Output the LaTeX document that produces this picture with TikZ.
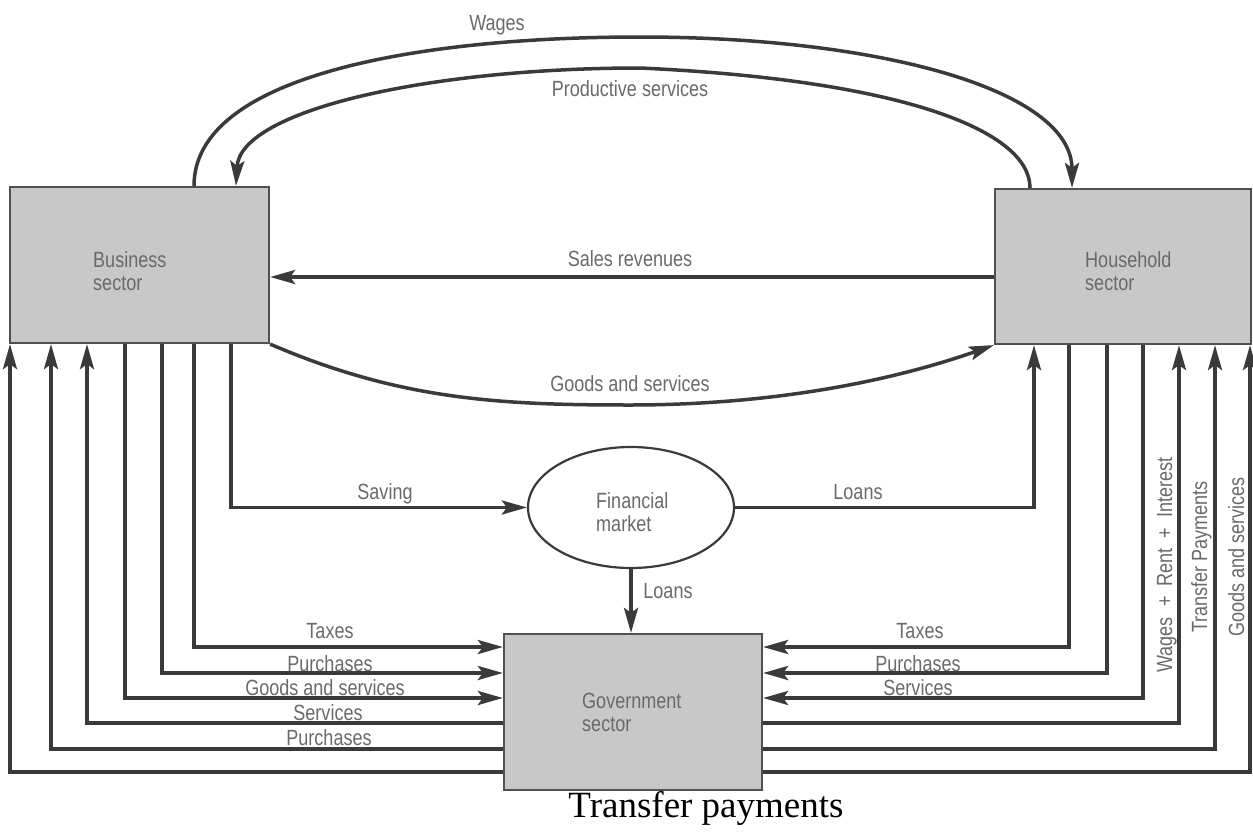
\documentclass[tikz,border=0pt]{standalone}
\usepackage{fontspec}
\setmainfont{Liberation Serif}
\newfontfamily\labfont{Liberation Sans}[FakeStretch=0.82]
\usetikzlibrary{arrows.meta,shapes.geometric}
\definecolor{linecol}{HTML}{3A3A3A}
\definecolor{boxfill}{HTML}{C8C8C8}
\definecolor{boxline}{HTML}{505050}
\definecolor{txtcol}{HTML}{6A6A6A}
\begin{document}
\begin{tikzpicture}[x=1pt,y=-1pt,
  conn/.style={line width=3.5pt, draw=linecol},
  arr/.style={-{Stealth[length=25pt,width=14pt,inset=5pt]}},
  sector/.style={draw=boxline, line width=2.2pt, fill=boxfill, inner sep=0pt, rectangle},
  lab/.style={font=\labfont\fontsize{22}{23}\selectfont, text=txtcol, inner sep=0pt, anchor=base},
  boxlab/.style={lab, align=left, anchor=west},
]
\fill[white] (0,0) rectangle (1253,835);
\useasboundingbox (0,0) rectangle (1253,835);

% sectors
\node[sector, minimum width=259pt, minimum height=156pt] (bus) at (139.5,265) {};
\node[sector, minimum width=256pt, minimum height=155pt] (hh) at (1123,266.5) {};
\node[sector, minimum width=258pt, minimum height=156pt] (gov) at (633,712) {};
\node[draw=linecol, line width=2.2pt, ellipse, minimum width=206pt, minimum height=121pt, inner sep=0pt, fill=white] (fin) at (631,507.5) {};

\node[boxlab] (tbus) at (93,271) {Business\\sector};
\node[boxlab] (thh) at (1085,271) {Household\\sector};
\node[boxlab] (tgov) at (582,712) {Government\\sector};
\node[boxlab] (tfin) at (596,512) {Financial\\market};

% top arcs
\draw[conn,arr] (bus.north -| 194,0) .. controls (194,75) and (420,37) .. (640,37) .. controls (880,37) and (1072,90) .. (hh.north -| 1072,0);
\draw[conn,arr] (hh.north -| 1030,0) .. controls (1030,130) and (900,80) .. (640,68) .. controls (430,68) and (240,110) .. (bus.north -| 236,0);

% sales revenues / goods and services
\draw[conn,arr] (hh.west |- 0,277) -- (bus.east |- 0,277);
\draw[conn,arr] (bus.south east) .. controls (400,400) and (500,405) .. (630,405) .. controls (760,405) and (880,385) .. (hh.south west);

% financial market
\draw[conn,arr] (bus.south -| 231,0) |- (fin.west);
\draw[conn,arr] (fin.east) -| (hh.south -| 1034,0);
\draw[conn,arr] (fin.south) -- (fin.south |- gov.north);

% business <-> government
\draw[conn,arr] (bus.south -| 194,0) |- (gov.west |- 0,647);
\draw[conn,arr] (bus.south -| 162,0) |- (gov.west |- 0,673);
\draw[conn,arr] (bus.south -| 125,0) |- (gov.west |- 0,698);
\draw[conn,arr] (gov.west |- 0,723) -| (bus.south -| 87,0);
\draw[conn,arr] (gov.west |- 0,749) -| (bus.south -| 51,0);
\draw[conn,arr] (gov.west |- 0,772) -| (bus.south -| 10,0);

% household <-> government
\draw[conn,arr] (hh.south -| 1069,0) |- (gov.east |- 0,647);
\draw[conn,arr] (hh.south -| 1107,0) |- (gov.east |- 0,673);
\draw[conn,arr] (hh.south -| 1143,0) |- (gov.east |- 0,698);
\draw[conn,arr] (gov.east |- 0,723) -| (hh.south -| 1179,0);
\draw[conn,arr] (gov.east |- 0,749) -| (hh.south -| 1215,0);
\draw[conn,arr] (gov.east |- 0,772) -| (hh.south -| 1250,0);

% labels
\node[lab] (lwages) at (497,30) {Wages};
\node[lab] (lprod) at (630,96) {Productive services};
\node[lab] (lsales) at (630,266) {Sales revenues};
\node[lab] (lgoods) at (630,391) {Goods and services};
\node[lab] (lsave) at (385,499) {Saving};
\node[lab] (lloans) at (858,499) {Loans};
\node[lab] (lloans2) at (668,598) {Loans};

\node[lab] (bl1) at (330,638) {Taxes};
\node[lab] (bl2) at (330,671) {Purchases};
\node[lab] (bl3) at (325,695) {Goods and services};
\node[lab] (bl4) at (328,720) {Services};
\node[lab] (bl5) at (329,745) {Purchases};

\node[lab] (hl1) at (920,638) {Taxes};
\node[lab] (hl2) at (918,671) {Purchases};
\node[lab] (hl3) at (918,695) {Services};

\node[lab, rotate=90] (hv1) at (1172,565) {Wages\ \ +\ \ Rent\ \ +\ \ Interest};
\node[lab, rotate=90] (hv2) at (1207,557) {Transfer Payments};
\node[lab, rotate=90] (hv3) at (1244,557) {Goods and services};

\node[font=\fontsize{37}{42}\selectfont, anchor=base, inner sep=0pt] (cap) at (706,817) {Transfer payments};
\end{tikzpicture}
\end{document}
